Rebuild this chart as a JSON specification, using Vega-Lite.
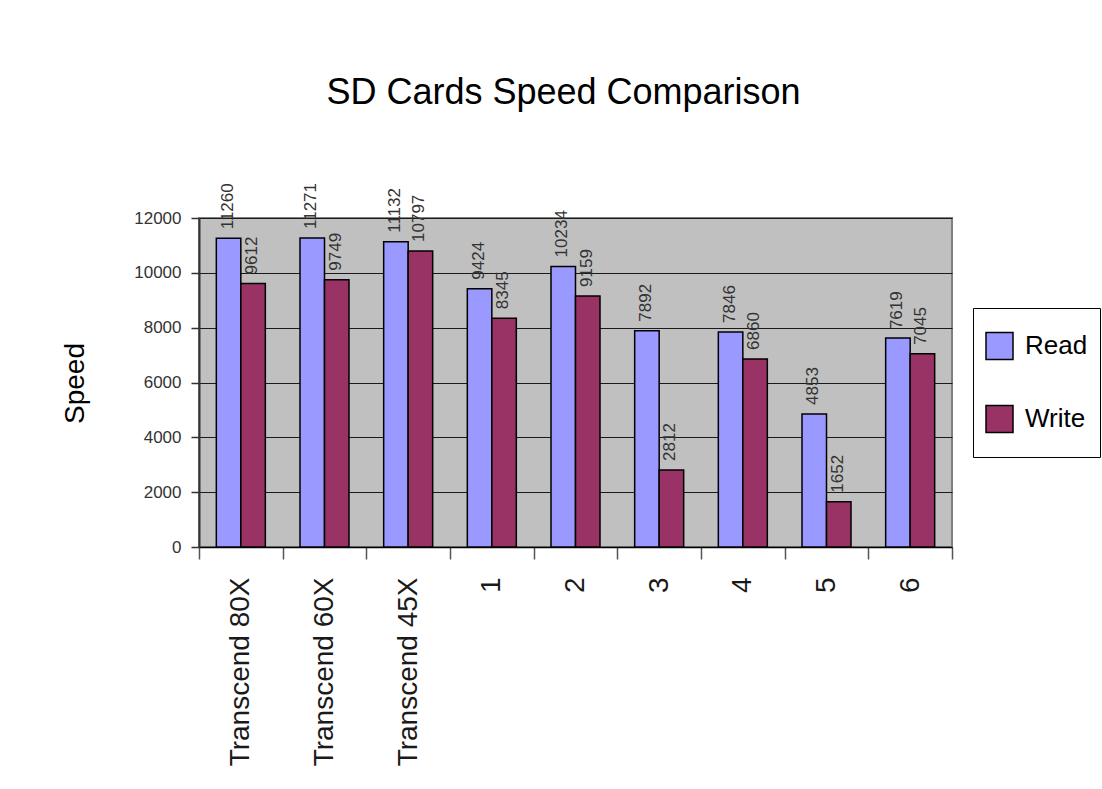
{
  "$schema": "https://vega.github.io/schema/vega-lite/v6.json",
  "autosize": {"type": "none"},
  "width": 753,
  "height": 329,
  "padding": {"left": 199, "top": 218, "right": 150, "bottom": 242},
  "background": "white",
  "config": {
    "font": "Liberation Sans",
    "view": {"fill": "#C0C0C0", "stroke": "#808080", "strokeWidth": 2}
  },
  "title": {
    "text": "SD Cards Speed Comparison",
    "fontSize": 36,
    "fontWeight": "normal",
    "color": "#000000",
    "anchor": "middle",
    "baseline": "alphabetic",
    "offset": 43,
    "dx": -12
  },
  "data": {
    "values": [
      {"card": "Transcend 80X", "type": "Read", "speed": 11260},
      {"card": "Transcend 80X", "type": "Write", "speed": 9612},
      {"card": "Transcend 60X", "type": "Read", "speed": 11271},
      {"card": "Transcend 60X", "type": "Write", "speed": 9749},
      {"card": "Transcend 45X", "type": "Read", "speed": 11132},
      {"card": "Transcend 45X", "type": "Write", "speed": 10797},
      {"card": "1", "type": "Read", "speed": 9424},
      {"card": "1", "type": "Write", "speed": 8345},
      {"card": "2", "type": "Read", "speed": 10234},
      {"card": "2", "type": "Write", "speed": 9159},
      {"card": "3", "type": "Read", "speed": 7892},
      {"card": "3", "type": "Write", "speed": 2812},
      {"card": "4", "type": "Read", "speed": 7846},
      {"card": "4", "type": "Write", "speed": 6860},
      {"card": "5", "type": "Read", "speed": 4853},
      {"card": "5", "type": "Write", "speed": 1652},
      {"card": "6", "type": "Read", "speed": 7619},
      {"card": "6", "type": "Write", "speed": 7045}
    ]
  },
  "encoding": {
    "x": {
      "field": "card",
      "type": "nominal",
      "sort": null,
      "scale": {"paddingInner": 0, "paddingOuter": 0},
      "axis": {
        "title": null,
        "labelAngle": 270,
        "labelFontSize": 28,
        "labelColor": "#1a1a1a",
        "labelPadding": 18,
        "labelLimit": 400,
        "tickBand": "extent",
        "tickSize": 12,
        "tickWidth": 1.5,
        "tickColor": "#555555",
        "domainColor": "#000000",
        "domainWidth": 1.5,
        "grid": false
      }
    },
    "xOffset": {
      "field": "type",
      "type": "nominal",
      "sort": ["Read", "Write"],
      "scale": {"paddingInner": 0, "paddingOuter": 0.7075}
    },
    "y": {
      "field": "speed",
      "type": "quantitative",
      "scale": {"domain": [0, 12000], "nice": false},
      "axis": {
        "title": "Speed",
        "titleFontSize": 28,
        "titleFontWeight": "normal",
        "titleColor": "#000000",
        "titleAngle": 270,
        "titleAlign": "center",
        "titleBaseline": "alphabetic",
        "titleX": -116,
        "titleY": 165,
        "values": [0, 2000, 4000, 6000, 8000, 10000, 12000],
        "format": "d",
        "labelFontSize": 17,
        "labelColor": "#333333",
        "labelPadding": 10,
        "tickSize": 8,
        "tickColor": "#333333",
        "tickWidth": 1.5,
        "domainColor": "#333333",
        "domainWidth": 2,
        "grid": true,
        "gridColor": "#1a1a1a",
        "gridWidth": 1
      }
    }
  },
  "layer": [
    {
      "mark": {"type": "bar", "stroke": "#000000", "strokeWidth": 1.5},
      "encoding": {
        "color": {
          "field": "type",
          "type": "nominal",
          "scale": {"domain": ["Read", "Write"], "range": ["#9999FF", "#993366"]},
          "legend": {
            "title": null,
            "orient": "none",
            "legendX": 774,
            "legendY": 90,
            "direction": "vertical",
            "fillColor": "#FFFFFF",
            "strokeColor": "#000000",
            "padding": 12,
            "symbolType": "square",
            "symbolSize": 729,
            "symbolStrokeColor": "#000000",
            "symbolStrokeWidth": 1.5,
            "symbolOpacity": 1,
            "clipHeight": 52,
            "rowPadding": 21,
            "labelFontSize": 26,
            "labelColor": "#000000",
            "labelOffset": 11
          }
        }
      }
    },
    {
      "mark": {
        "type": "text",
        "angle": 270,
        "align": "left",
        "baseline": "middle",
        "dx": 9,
        "dy": -1,
        "fontSize": 17,
        "color": "#333333"
      },
      "encoding": {
        "text": {"field": "speed", "type": "quantitative", "format": "d"}
      }
    }
  ]
}
